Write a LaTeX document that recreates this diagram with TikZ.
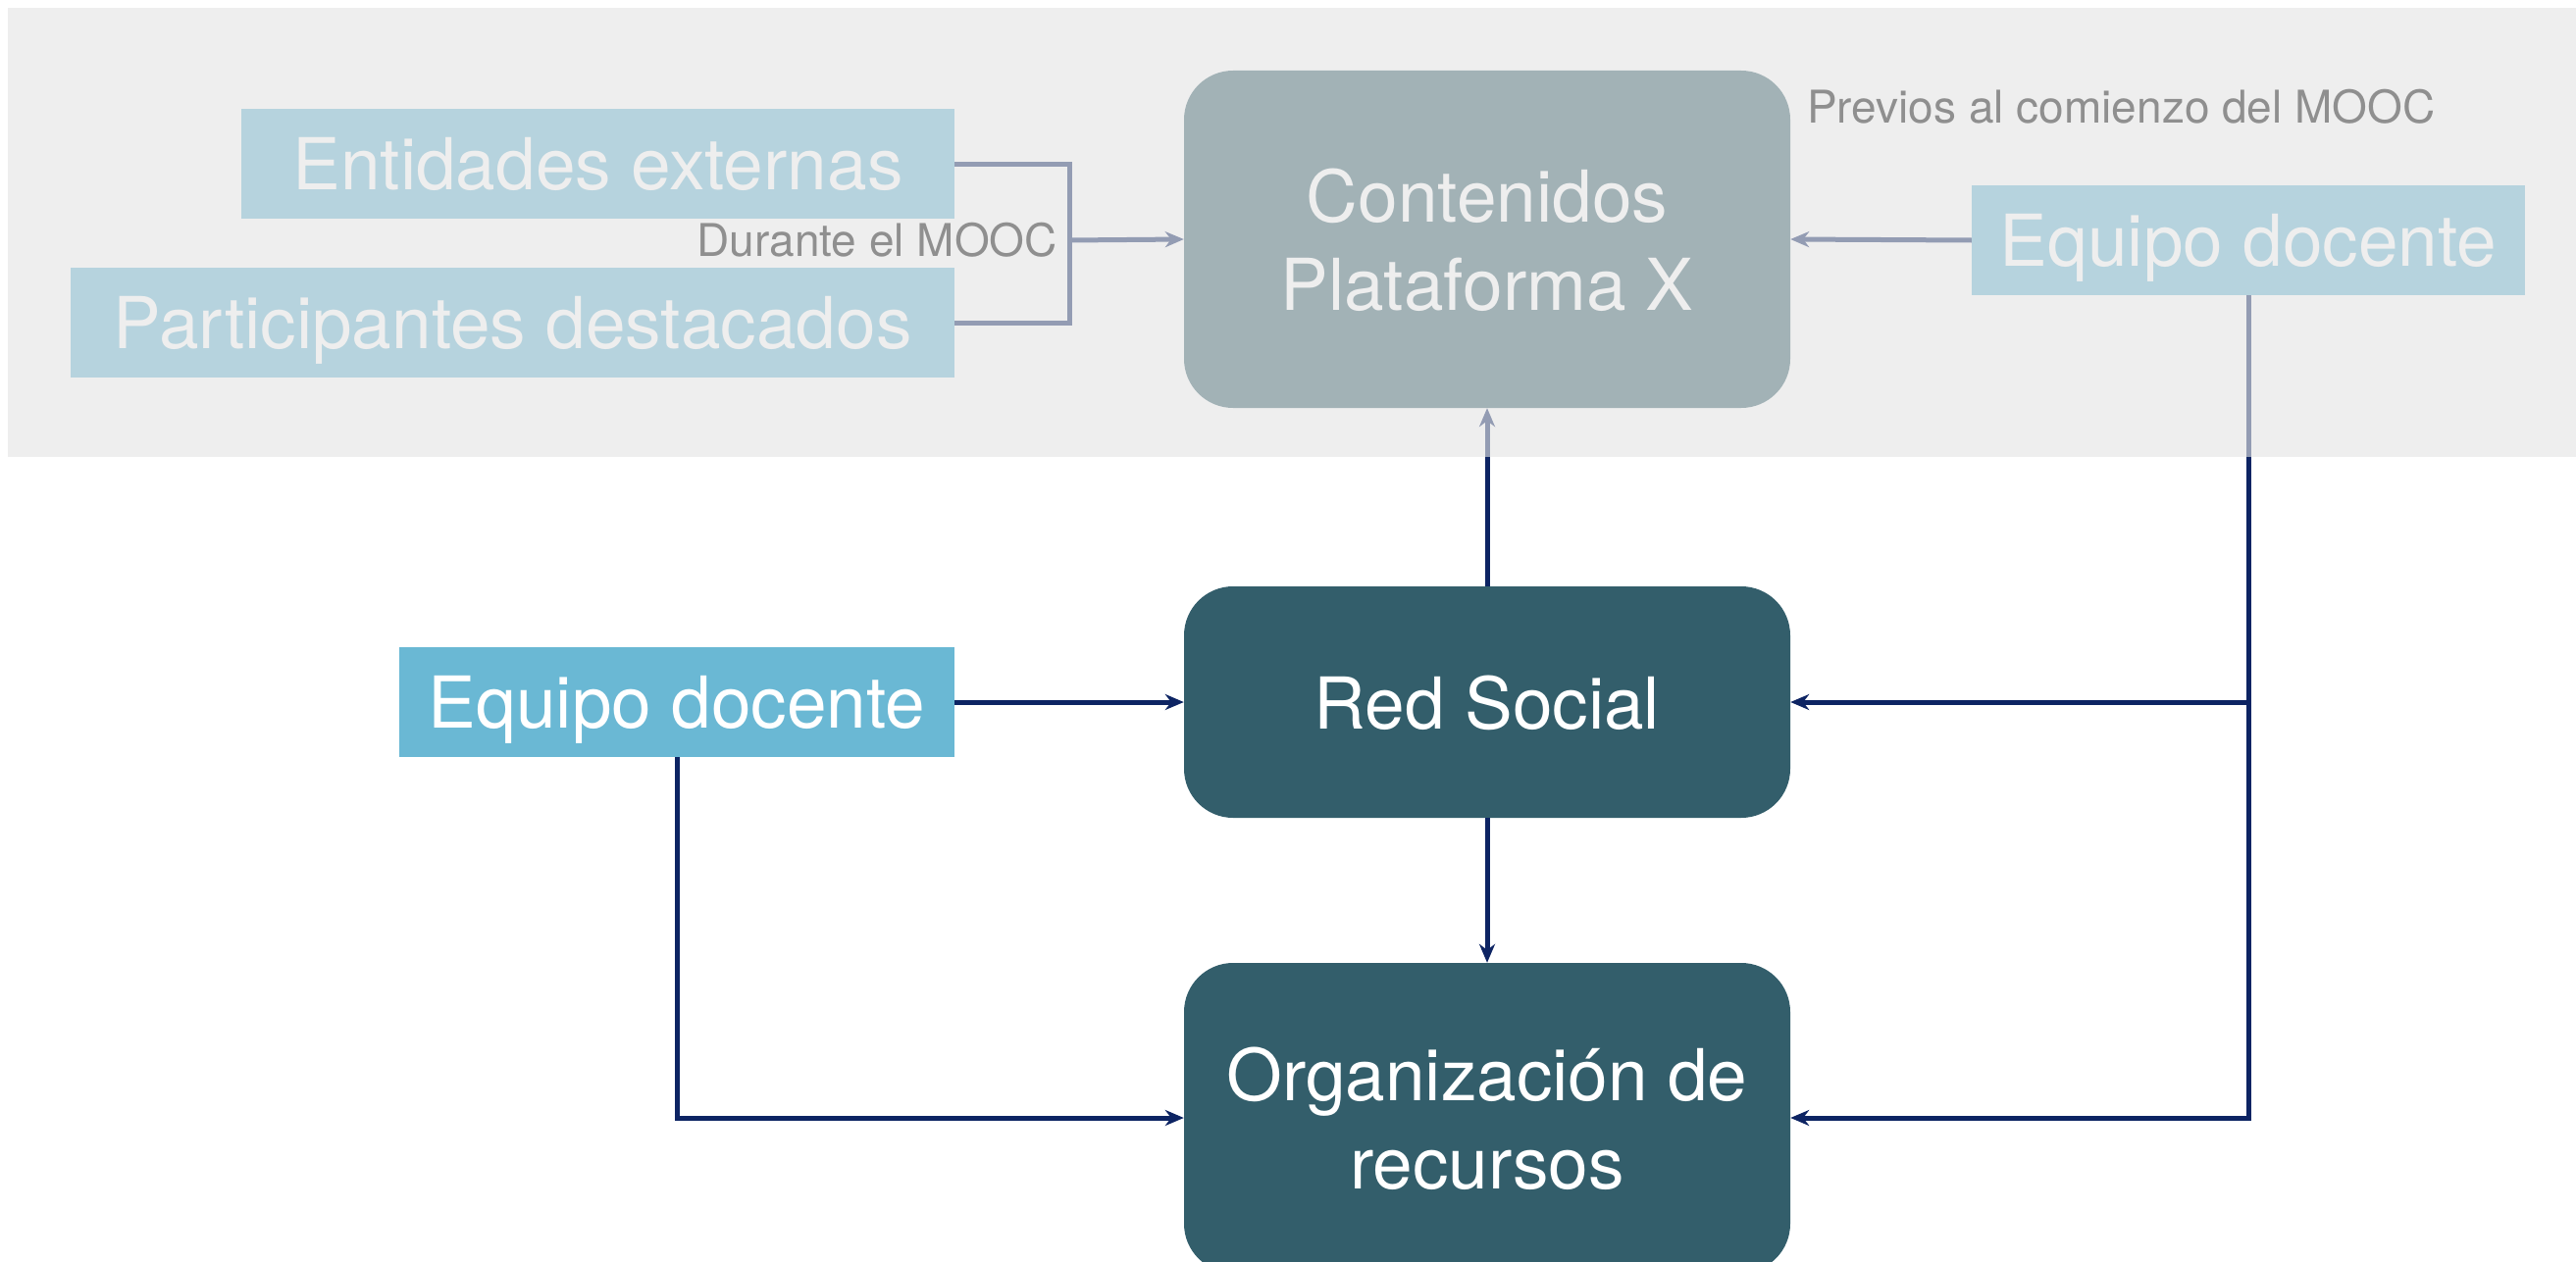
\documentclass[tikz,border=0pt]{standalone}
\usepackage{fontspec}
\setmainfont{TeX Gyre Heros}
\usetikzlibrary{arrows.meta}
\definecolor{navy}{HTML}{0D2463}
\definecolor{teal}{HTML}{335E6B}
\definecolor{skyb}{HTML}{6AB8D4}
\definecolor{ovl}{HTML}{E4E4E4}
\tikzset{
  big/.style={font=\fontsize{73}{90}\selectfont, text=white, inner sep=0pt, align=center, text depth=0pt},
  flatbox/.style={big, fill=skyb, minimum height=112pt},
  roundbox/.style={big, fill=teal, rounded corners=50pt, minimum width=618pt},
  conn/.style={draw=navy, line width=5pt},
  arr/.style={conn, -{Stealth[length=19pt,width=16pt,inset=6pt]}},
  note/.style={font=\fontsize{46}{55}\selectfont, text=black, inner sep=0pt}
}
\begin{document}
\begin{tikzpicture}[x=1pt,y=-1pt]
\useasboundingbox (0,0) rectangle (2626,1287);
\clip (0,0) rectangle (2626,1287);
% nodes
\node[roundbox, minimum height=344pt] (cont) at (1516,244) {Contenidos\\Plataforma X};
\node[roundbox, minimum height=236pt] (red) at (1516,716) {Red Social};
\node[roundbox, minimum height=316pt] (org) at (1516,1140) {Organización de\\recursos};
\node[flatbox, minimum width=727pt] (ent) at (609.5,167) {Entidades externas};
\node[flatbox, minimum width=901pt] (par) at (522.5,329) {Participantes destacados};
\node[flatbox, minimum width=564pt] (eqt) at (2292,245) {Equipo docente};
\node[flatbox, minimum width=566pt] (eqb) at (690,716) {Equipo docente};
\node[note, anchor=east] (dur) at (1078,245) {Durante el MOOC};
\node[note, anchor=west] (prev) at (1842,109) {Previos al comienzo del MOOC};
\coordinate (br) at (1090,245);
% connectors
\draw[conn] (ent.east) -| (br) |- (par.east);
\draw[arr] (br) -- (cont.west);
\draw[arr] (eqt.west) -- (cont.east);
\draw[arr] (red.north) -- (cont.south);
\draw[arr] (red.south) -- (org.north);
\draw[arr] (eqb.east) -- (red.west);
\draw[arr] (eqb.south) |- (org.west);
\draw[arr] (eqt.south) |- (red.east);
\draw[arr] (eqt.south) |- (org.east);
% faded top band
\fill[ovl, fill opacity=0.628] (8,8) rectangle (2626,466);
\end{tikzpicture}
\end{document}
